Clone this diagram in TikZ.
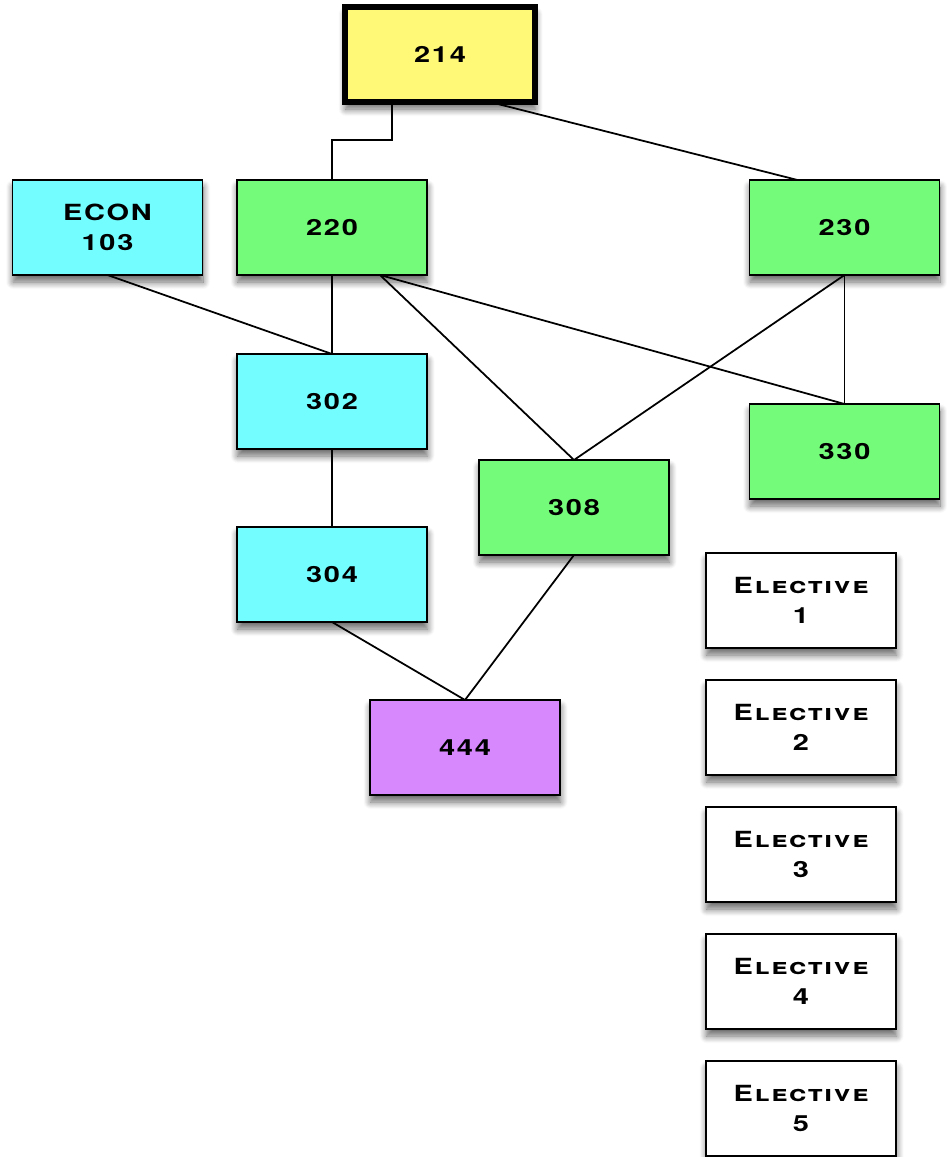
\documentclass[tikz,border=0pt]{standalone}
\usepackage{fontspec}
\setmainfont{TeX Gyre Heros}[FakeStretch=1.3, LetterSpace=8]
\usetikzlibrary{shadows.blur}

\definecolor{yellowbox}{RGB}{255,249,119}
\definecolor{greenbox}{RGB}{116,251,122}
\definecolor{cyanbox}{RGB}{115,253,255}
\definecolor{purplebox}{RGB}{214,136,252}

\begin{document}
\begin{tikzpicture}[x=0.03cm, y=-0.03cm,
  every node/.style={draw=black, line width=1.6pt, minimum width=5.7cm, minimum height=2.85cm, outer sep=0pt, align=center, font=\fontsize{19}{26}\selectfont\bfseries,
    blur shadow={shadow xshift=0.5pt, shadow yshift=-6pt, shadow blur radius=6pt, shadow blur steps=10, shadow opacity=60}},
  course/.style={fill=#1},
  prereq/.style={line width=1.5pt}]
\useasboundingbox (0,0) rectangle (946,1157);

\node[course=yellowbox, line width=4.5pt] (c214) at (440,54.5) {214};
\node[course=cyanbox] (econ) at (107.5,227.5) {ECON\\103};
\node[course=greenbox] (c220) at (332,227.5) {220};
\node[course=greenbox] (c230) at (844.5,227.5) {230};
\node[course=cyanbox] (c302) at (332,401.5) {302};
\node[course=greenbox] (c330) at (844.5,451.5) {330};
\node[course=greenbox] (c308) at (574,507.5) {308};
\node[course=cyanbox] (c304) at (332,574.5) {304};
\node[course=purplebox] (c444) at (465,747.5) {444};

\node[course=white] (el1) at (801,600.5) {\scshape Elective\\1};
\node[course=white] (el2) at (801,727.5) {\scshape Elective\\2};
\node[course=white] (el3) at (801,854.5) {\scshape Elective\\3};
\node[course=white] (el4) at (801,981.5) {\scshape Elective\\4};
\node[course=white] (el5) at (801,1108.5) {\scshape Elective\\5};

\draw[prereq] ([xshift=-1.44cm]c214.south) -- ++(0,-1.14cm) -| (c220.north);
\draw[prereq] ([xshift=1.5cm]c214.south) -- ([xshift=-1.41cm]c230.north);
\draw[prereq] (econ.south) -- (c302.north);
\draw[prereq] (c220.south) -- (c302.north);
\draw[prereq] ([xshift=1.44cm]c220.south) -- (c308.north);
\draw[prereq] ([xshift=1.44cm]c220.south) -- (c330.north);
\draw[prereq] (c230.south) -- (c308.north);
\draw[prereq] (c230.south) -- (c330.north);
\draw[prereq] (c302.south) -- (c304.north);
\draw[prereq] (c304.south) -- (c444.north);
\draw[prereq] (c308.south) -- (c444.north);
\end{tikzpicture}
\end{document}
